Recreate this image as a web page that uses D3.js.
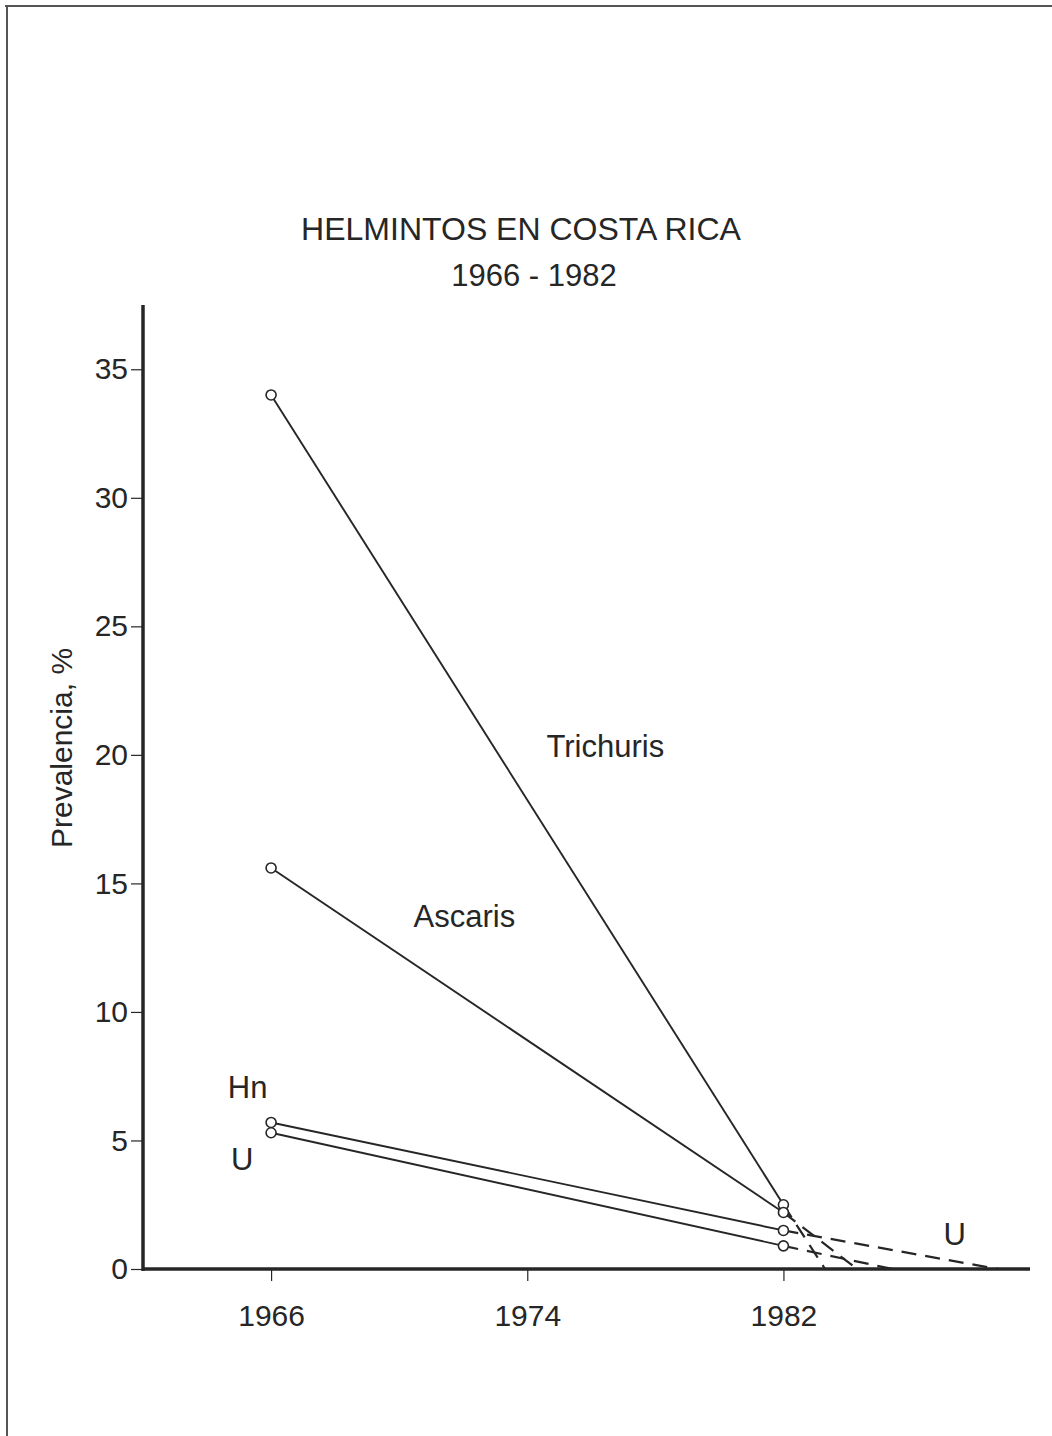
<!DOCTYPE html>
<html>
<head>
<meta charset="utf-8">
<script src="https://cdn.jsdelivr.net/npm/d3@7"></script>
<style>
  body { margin: 0; background: #fff; }
  svg { display: block; }
</style>
</head>
<body>
<div id="chart"></div>
<script>
// data
var years = [1966, 1982];
var seriesNames = ["Trichuris", "Ascaris", "Hn", "U"];
var trichuris = [34.0, 2.5];
var ascaris = [15.6, 2.2];
var hn = [5.7, 1.5];
var u = [5.3, 0.9];
var zeroYear = [1983.3, 1984.3, 1988.7, 1985.4]; // where the dashed projections meet 0
var yTicks = [0, 5, 10, 15, 20, 25, 30, 35];
var xTicks = [1966, 1974, 1982];

var width = 1052, height = 1436,
    ink = "#262626",
    font = "'Liberation Sans', Arial, Helvetica, sans-serif";

var svg = d3.select("#chart").append("svg")
    .attr("width", width)
    .attr("height", height);

// page frame (top and left edges of the scanned page)
svg.append("line").attr("x1", 5).attr("x2", width).attr("y1", 6).attr("y2", 6)
   .attr("stroke", "#555").attr("stroke-width", 2);
svg.append("line").attr("x1", 7).attr("x2", 7).attr("y1", 6).attr("y2", height)
   .attr("stroke", "#555").attr("stroke-width", 2);

var x = d3.scaleLinear().domain([1962, 1989.7]).range([143, 1030]),
    y = d3.scaleLinear().domain([0, 37.5]).range([1269, 305]);

// title
svg.append("text").attr("x", 521).attr("y", 240)
   .attr("text-anchor", "middle").attr("font-family", font).attr("font-size", 32)
   .attr("fill", ink).text("HELMINTOS EN COSTA RICA");
svg.append("text").attr("x", 534).attr("y", 286)
   .attr("text-anchor", "middle").attr("font-family", font).attr("font-size", 31)
   .attr("fill", ink).text("1966 - 1982");

// y axis
var yAxis = svg.append("g")
    .attr("transform", "translate(" + x(1962) + ",0)")
    .call(d3.axisLeft(y).tickValues(yTicks).tickSize(12).tickPadding(3).tickFormat(d3.format("d")));
yAxis.select(".domain").remove();
yAxis.selectAll(".tick line").attr("stroke", ink).attr("stroke-width", 1.2);
yAxis.selectAll(".tick text").attr("font-family", font).attr("font-size", 30).attr("fill", ink);

// x axis
var xAxis = svg.append("g")
    .attr("transform", "translate(0," + y(0) + ")")
    .call(d3.axisBottom(x).tickValues(xTicks).tickSize(12).tickPadding(24).tickFormat(d3.format("d")));
xAxis.select(".domain").remove();
xAxis.selectAll(".tick line").attr("stroke", ink).attr("stroke-width", 1.2);
xAxis.selectAll(".tick text").attr("font-family", font).attr("font-size", 30).attr("fill", ink);

// heavy axis lines
svg.append("line").attr("x1", x(1962)).attr("x2", x(1962)).attr("y1", y(37.5)).attr("y2", y(0) + 2)
   .attr("stroke", ink).attr("stroke-width", 3.5);
svg.append("line").attr("x1", x(1962)).attr("x2", x(1989.7)).attr("y1", y(0)).attr("y2", y(0))
   .attr("stroke", ink).attr("stroke-width", 3.5);

// y axis title
svg.append("text")
   .attr("transform", "translate(72,748) rotate(-90)")
   .attr("text-anchor", "middle").attr("font-family", font).attr("font-size", 30)
   .attr("fill", ink).text("Prevalencia, %");

var allSeries = [trichuris, ascaris, hn, u];
var line = d3.line().x(function(d) { return x(d[0]); }).y(function(d) { return y(d[1]); });

// dashed projections to zero
allSeries.forEach(function(vals, i) {
  svg.append("path")
     .datum([[years[1], vals[1]], [zeroYear[i], 0]])
     .attr("d", line)
     .attr("fill", "none").attr("stroke", ink).attr("stroke-width", 2.2)
     .attr("stroke-dasharray", "15,9");
});

// observed lines
allSeries.forEach(function(vals) {
  svg.append("path")
     .datum(years.map(function(yr, j) { return [yr, vals[j]]; }))
     .attr("d", line)
     .attr("fill", "none").attr("stroke", ink).attr("stroke-width", 1.9);
});

// markers
allSeries.forEach(function(vals) {
  svg.append("g").selectAll("circle")
     .data(years.map(function(yr, j) { return [yr, vals[j]]; }))
     .join("circle")
     .attr("cx", function(d) { return x(d[0]); })
     .attr("cy", function(d) { return y(d[1]); })
     .attr("r", 5)
     .attr("fill", "#fff").attr("stroke", ink).attr("stroke-width", 1.6);
});

// series labels placed in data coordinates
var labelPos = [
  {text: "Trichuris", yr: 1974.6, v: 19.9},
  {text: "Ascaris", yr: 1970.45, v: 13.3},
  {text: "Hn", yr: 1964.65, v: 6.65},
  {text: "U", yr: 1964.75, v: 3.85},
  {text: "U", yr: 1987.0, v: 0.95}
];
svg.append("g").selectAll("text")
   .data(labelPos)
   .join("text")
   .attr("x", function(d) { return x(d.yr); })
   .attr("y", function(d) { return y(d.v); })
   .attr("font-family", font).attr("font-size", 31).attr("fill", ink)
   .text(function(d) { return d.text; });
</script>
</body>
</html>
